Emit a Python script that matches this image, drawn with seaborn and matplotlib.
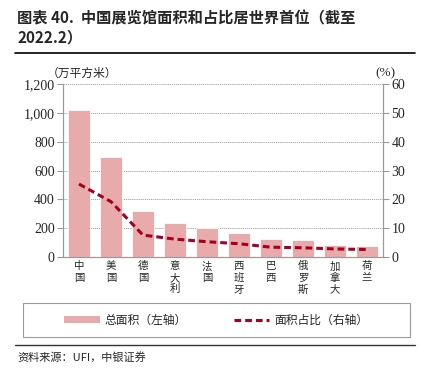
import numpy as np
import pandas as pd
import matplotlib
matplotlib.use("Agg")
import matplotlib.pyplot as plt
import seaborn as sns
from matplotlib.patches import Rectangle
from matplotlib.lines import Line2D
from matplotlib.patches import Patch

# =====================================================
# DATA
# =====================================================

countries = ["中国", "美国", "德国", "意大利", "法国", "西班牙", "巴西", "俄罗斯", "加拿大", "荷兰"]
area = [1020, 692, 318, 236, 200, 166, 122, 116, 82, 76]
share = [25.3, 19.2, 7.6, 6.2, 5.3, 4.6, 3.4, 3.2, 2.8, 2.6]

left_ticks = [0, 200, 400, 600, 800, 1000, 1200]
right_ticks = [0, 10, 20, 30, 40, 50, 60]

BAR_COLOR = "#E8AAAA"
LINE_COLOR = "#A50021"
GRID_COLOR = "#9A9A9A"

df = pd.DataFrame({"country": countries, "area": area, "share": share})

# =====================================================
# STYLE
# =====================================================

sns.set_style("white")
plt.rcParams["font.family"] = ["Liberation Serif", "Noto Sans CJK SC"]
CJK = ["Noto Sans CJK SC", "DejaVu Sans"]

fig = plt.figure(figsize=(4.32, 3.69), dpi=100)
ax = fig.add_axes([63 / 432, 1 - 257 / 369, 320 / 432, 173 / 369])

sns.barplot(
    data=df,
    x="country",
    y="area",
    color=BAR_COLOR,
    width=0.7,
    edgecolor="white",
    linewidth=0.6,
    saturation=1,
    ax=ax,
    zorder=3,
)

ax.set_ylim(0, 1200)
ax.set_xlim(-0.5, len(countries) - 0.5)
ax.set_yticks(left_ticks)
ax.set_yticklabels([f"{v:,}" for v in left_ticks], fontsize=10)
ax.set_xticks(range(len(countries)))
ax.set_xticklabels(["\n".join(c) for c in countries], family=CJK, fontsize=7.5,
                   linespacing=1.2, va="top")
ax.set_xticks(np.arange(-0.5, len(countries)), minor=True)
ax.tick_params(axis="x", which="major", length=0, pad=3)
ax.tick_params(axis="x", which="minor", length=4, color=GRID_COLOR, direction="out")
ax.tick_params(axis="y", length=4, color=GRID_COLOR, direction="out", pad=2)
ax.set_xlabel("")
ax.set_ylabel("")

for y in left_ticks[1:]:
    ax.axhline(y, color=GRID_COLOR, lw=0.6, ls=(0, (1.5, 1)), zorder=1)

for s in ["top"]:
    ax.spines[s].set_visible(False)
for s in ["left", "right", "bottom"]:
    ax.spines[s].set_color(GRID_COLOR)
    ax.spines[s].set_linewidth(0.8)

# right axis: share
ax2 = ax.twinx()
sns.lineplot(
    data=df,
    x="country",
    y="share",
    color=LINE_COLOR,
    lw=2.2,
    ax=ax2,
    zorder=4,
)
ax2.lines[0].set_dashes((2.2, 1.3))
ax2.set_ylim(0, 60)
ax2.set_yticks(right_ticks)
ax2.set_yticklabels([str(v) for v in right_ticks], fontsize=10)
ax2.tick_params(axis="y", length=4, color=GRID_COLOR, direction="out", pad=2)
ax2.set_ylabel("")
ax2.spines["top"].set_visible(False)
for s in ["left", "right", "bottom"]:
    ax2.spines[s].set_color(GRID_COLOR)
    ax2.spines[s].set_linewidth(0.8)

# unit labels
fig.text(82 / 432, 1 - 73 / 369, "（万平方米）", family=CJK, fontsize=8.5,
         ha="center", va="center")
fig.text(385 / 432, 1 - 73 / 369, "(%)", fontsize=9.5, ha="center", va="center")

# =====================================================
# TITLE
# =====================================================

fig.text(17 / 432, 1 - 10 / 369, "图表 40.  中国展览馆面积和占比居世界首位（截至\n2022.2）",
         family=CJK, fontsize=11, fontweight="bold", ha="left", va="top",
         linespacing=1.25)
fig.add_artist(Line2D([15 / 432, 415 / 432], [1 - 53 / 369, 1 - 53 / 369],
                      color="black", lw=1.2))

# =====================================================
# LEGEND
# =====================================================

fig.add_artist(Rectangle((23 / 432, 1 - 337 / 369), 387 / 432, 34 / 369,
                         transform=fig.transFigure, fill=False,
                         edgecolor="#9A9A9A", lw=0.8))
handles = [
    Patch(facecolor=BAR_COLOR, edgecolor="none", label="总面积（左轴）"),
    Line2D([0], [0], color=LINE_COLOR, lw=2.2, dashes=(2.2, 1.3), label="面积占比（右轴）"),
]
fig.legend(handles=handles, loc="center", bbox_to_anchor=(216 / 432, 1 - 320 / 369),
           ncol=2, frameon=False, prop={"family": CJK, "size": 8.5},
           handlelength=3.0, handleheight=0.6, columnspacing=4.0, handletextpad=0.4)

# =====================================================
# SOURCE
# =====================================================

fig.add_artist(Line2D([15 / 432, 415 / 432], [1 - 345 / 369, 1 - 345 / 369],
                      color="#333333", lw=1.0))
fig.text(17 / 432, 1 - 357 / 369, "资料来源：UFI，中银证券", family=CJK,
         fontsize=8, style="italic", ha="left", va="center")

fig.savefig("out.png", dpi=100)
plt.close(fig)
